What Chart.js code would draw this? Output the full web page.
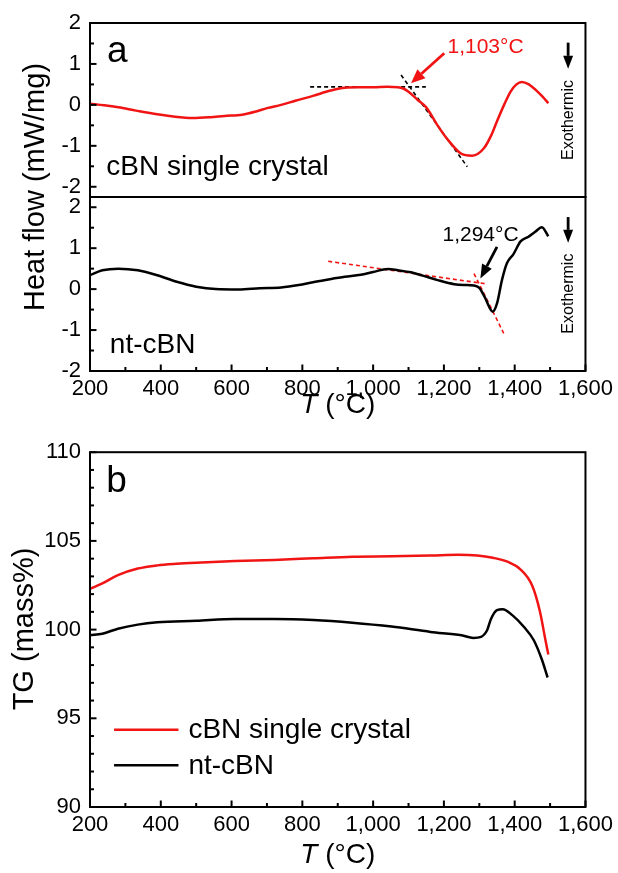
<!DOCTYPE html>
<html>
<head>
<meta charset="utf-8">
<script src="https://cdn.jsdelivr.net/npm/chart.js@4.4.0/dist/chart.umd.min.js"></script>
<style>
  body { margin: 0; background: #fff; width: 618px; height: 873px; position: relative; overflow: hidden; }
  canvas { position: absolute; left: 0; }
  #dsc { top: 0; }
  #tg { top: 430px; }
</style>
</head>
<body>
<canvas id="dsc" width="618" height="430"></canvas>
<canvas id="tg" width="618" height="443"></canvas>
<script>
// temperature axis
var xTicks = [200, 400, 600, 800, 1000, 1200, 1400, 1600];
var xTickLabels = ['200', '400', '600', '800', '1,000', '1,200', '1,400', '1,600'];
var hfTicks = [-2, -1, 0, 1, 2];
var tgTicks = [90, 95, 100, 105, 110];

// DSC, cBN single crystal (mW/mg)
var dscCbnT  = [200, 240, 280, 330, 390, 440, 490, 540, 580, 630, 670, 700, 740, 780, 830, 880, 920, 960, 1000, 1040, 1070, 1085, 1100, 1126, 1150, 1182, 1210, 1247, 1280, 1313, 1335, 1350, 1370, 1388, 1405, 1420, 1440, 1460, 1480, 1495];
var dscCbnHF = [0.03, -0.01, -0.06, -0.14, -0.23, -0.29, -0.32, -0.30, -0.27, -0.24, -0.16, -0.08, 0.0, 0.10, 0.22, 0.35, 0.42, 0.43, 0.43, 0.44, 0.43, 0.40, 0.32, 0.12, -0.06, -0.50, -0.84, -1.18, -1.24, -1.06, -0.72, -0.40, 0.0, 0.32, 0.50, 0.56, 0.50, 0.36, 0.19, 0.04];

// DSC, nt-cBN (mW/mg)
var dscNtT  = [200, 235, 280, 335, 390, 445, 500, 555, 620, 680, 740, 790, 830, 870, 920, 965, 1000, 1042, 1070, 1107, 1140, 1182, 1229, 1257, 1285, 1300, 1315, 1338, 1350, 1364, 1378, 1397, 1416, 1439, 1458, 1477, 1495];
var dscNtHF = [0.34, 0.46, 0.50, 0.46, 0.34, 0.18, 0.06, 0.0, -0.01, 0.02, 0.04, 0.10, 0.17, 0.23, 0.30, 0.35, 0.42, 0.49, 0.46, 0.41, 0.33, 0.22, 0.12, 0.10, 0.09, 0.03, -0.19, -0.55, -0.35, 0.22, 0.63, 0.86, 1.16, 1.28, 1.40, 1.51, 1.29];

// onset construction lines
var cbnBaseT = [822, 1149];   var cbnBaseHF = [0.44, 0.44];
var cbnSlopeT = [1079, 1266]; var cbnSlopeHF = [0.73, -1.51];
var ntBaseT = [873, 1318];    var ntBaseHF = [0.68, 0.13];
var ntSlopeT = [1285, 1369];  var ntSlopeHF = [0.38, -1.08];

// TG (mass%)
var tgCbnT    = [200, 235, 279, 335, 390, 445, 500, 610, 721, 831, 941, 1052, 1162, 1240, 1294, 1338, 1383, 1416, 1449, 1471, 1487, 1495];
var tgCbnMass = [102.3, 102.6, 103.07, 103.44, 103.62, 103.71, 103.77, 103.86, 103.93, 104.02, 104.11, 104.13, 104.17, 104.22, 104.18, 104.05, 103.8, 103.4, 102.5, 101.05, 99.4, 98.6];
var tgNtT     = [200, 235, 279, 335, 390, 500, 610, 721, 831, 941, 1052, 1162, 1250, 1283, 1305, 1322, 1333, 1350, 1366, 1394, 1427, 1454, 1477, 1493];
var tgNtMass  = [99.68, 99.77, 100.05, 100.28, 100.41, 100.5, 100.6, 100.6, 100.54, 100.39, 100.17, 99.87, 99.68, 99.53, 99.59, 99.96, 100.6, 101.1, 101.15, 100.8, 100.13, 99.4, 98.3, 97.3];

var RED = '#f01414';
var FONT = '"Liberation Sans", Arial, sans-serif';
function font(size, style) { return (style ? style + ' ' : '') + size + 'px ' + FONT; }

function pts(xs, ys) {
  return xs.map(function (x, i) { return { x: x, y: ys[i] }; });
}

function curve(label, xs, ys, axis, color) {
  return { label: label, data: pts(xs, ys), yAxisID: axis, borderColor: color, borderWidth: 2.5,
           pointRadius: 0, cubicInterpolationMode: 'monotone', fill: false };
}
function guide(xs, ys, axis, color) {
  return { label: '', data: pts(xs, ys), yAxisID: axis, borderColor: color, borderWidth: 1.6,
           borderDash: [4, 3], pointRadius: 0, fill: false };
}

function arrow(ctx, x1, y1, x2, y2, head, width) {
  var a = Math.atan2(y2 - y1, x2 - x1);
  var bx = x2 - head * Math.cos(a), by = y2 - head * Math.sin(a);
  ctx.beginPath(); ctx.moveTo(x1, y1); ctx.lineTo(bx, by); ctx.stroke();
  ctx.beginPath(); ctx.moveTo(x2, y2);
  ctx.lineTo(bx + width / 2 * Math.sin(a), by - width / 2 * Math.cos(a));
  ctx.lineTo(bx - width / 2 * Math.sin(a), by + width / 2 * Math.cos(a));
  ctx.closePath(); ctx.fill();
}

function vtext(ctx, text, x, y, f) {
  ctx.save();
  ctx.translate(x, y); ctx.rotate(-Math.PI / 2);
  ctx.font = f; ctx.textAlign = 'center'; ctx.textBaseline = 'middle';
  ctx.fillText(text, 0, 0);
  ctx.restore();
}

function tTitle(ctx, cx, cy) {
  var f1 = font(28, 'italic'), f2 = font(28);
  ctx.font = f1; var w1 = ctx.measureText('T').width;
  ctx.font = f2; var w2 = ctx.measureText(' (°C)').width;
  var x0 = cx - (w1 + w2) / 2;
  ctx.textAlign = 'left'; ctx.textBaseline = 'middle';
  ctx.font = f1; ctx.fillText('T', x0, cy);
  ctx.font = f2; ctx.fillText(' (°C)', x0 + w1, cy);
}

// frame, inward ticks, labels and arrows
function makeDecor(cfg) {
  return {
    id: 'decor',
    afterDraw: function (chart) {
      var ctx = chart.ctx, area = chart.chartArea, xs = chart.scales.x;
      ctx.save();
      ctx.strokeStyle = '#000'; ctx.fillStyle = '#000'; ctx.lineWidth = 2;
      cfg.panels.forEach(function (p) {
        var s = chart.scales[p.axis];
        ctx.strokeRect(area.left, s.top, area.right - area.left, s.bottom - s.top);
        for (var k = Math.ceil(s.min / p.minor - 1e-9); k * p.minor <= s.max + 1e-9; k++) {
          var v = k * p.minor, r = v / p.major;
          var len = Math.abs(r - Math.round(r)) < 1e-6 ? 6.5 : 4;
          var py = s.getPixelForValue(v);
          ctx.beginPath(); ctx.moveTo(area.left, py); ctx.lineTo(area.left + len, py); ctx.stroke();
        }
      });
      for (var t = 200; t <= 1600; t += 100) {
        var px = xs.getPixelForValue(t);
        ctx.beginPath(); ctx.moveTo(px, area.bottom); ctx.lineTo(px, area.bottom - (t % 200 === 0 ? 6.5 : 4)); ctx.stroke();
      }
      (cfg.texts || []).forEach(function (a) {
        var s = chart.scales[a.axis];
        var x = xs.getPixelForValue(a.x), y = s.getPixelForValue(a.y);
        ctx.fillStyle = a.color || '#000';
        if (a.vertical) { vtext(ctx, a.text, x, y, font(a.size)); return; }
        ctx.font = font(a.size); ctx.textAlign = 'left'; ctx.textBaseline = a.baseline || 'middle';
        ctx.fillText(a.text, x, y);
      });
      (cfg.arrows || []).forEach(function (a) {
        var s = chart.scales[a.axis];
        ctx.strokeStyle = a.color; ctx.fillStyle = a.color; ctx.lineWidth = a.lw;
        arrow(ctx, xs.getPixelForValue(a.from[0]), s.getPixelForValue(a.from[1]),
                   xs.getPixelForValue(a.to[0]), s.getPixelForValue(a.to[1]), a.head, a.width);
      });
      if (cfg.legend) {
        var ys = chart.scales[cfg.legend.axis];
        cfg.legend.rows.forEach(function (row) {
          var ds = chart.data.datasets[row.index];
          var y = ys.getPixelForValue(row.y);
          ctx.strokeStyle = ds.borderColor; ctx.lineWidth = 2.5;
          ctx.beginPath(); ctx.moveTo(xs.getPixelForValue(cfg.legend.x0), y);
          ctx.lineTo(xs.getPixelForValue(cfg.legend.x1), y); ctx.stroke();
          ctx.fillStyle = '#000'; ctx.font = font(28); ctx.textAlign = 'left'; ctx.textBaseline = 'middle';
          ctx.fillText(ds.label, xs.getPixelForValue(cfg.legend.xText), y + 1);
        });
      }
      ctx.fillStyle = '#000';
      vtext(ctx, cfg.yTitle.text, cfg.yTitle.x, cfg.yTitle.y, font(29));
      tTitle(ctx, (area.left + area.right) / 2, cfg.xTitleY);
      ctx.restore();
    }
  };
}

function xScale(height) {
  return {
    type: 'linear', min: 200, max: 1600,
    afterBuildTicks: function (s) { s.ticks = xTicks.map(function (v) { return { value: v }; }); },
    afterFit: function (s) { s.height = height; },
    grid: { display: false, drawTicks: false }, border: { display: false },
    ticks: { color: '#000', font: { family: FONT, size: 22 }, padding: 5, maxRotation: 0, autoSkip: false,
             callback: function (v, i) { return xTickLabels[i]; } }
  };
}
function yScale(min, max, ticks, extra) {
  var s = {
    type: 'linear', axis: 'y', position: 'left', min: min, max: max,
    afterBuildTicks: function (sc) { sc.ticks = ticks.map(function (v) { return { value: v }; }); },
    afterFit: function (sc) { sc.width = 90; },
    grid: { display: false, drawTicks: false }, border: { display: false },
    ticks: { color: '#000', font: { family: FONT, size: 22 }, padding: 9, autoSkip: false }
  };
  for (var k in extra) s[k] = extra[k];
  return s;
}

var common = {
  responsive: false, animation: false, events: [],
  plugins: { legend: { display: false }, tooltip: { enabled: false } }
};

new Chart(document.getElementById('dsc').getContext('2d'), {
  type: 'line',
  data: {
    datasets: [
      curve('cBN single crystal', dscCbnT, dscCbnHF, 'yTop', RED),
      curve('nt-cBN', dscNtT, dscNtHF, 'yBot', '#000'),
      guide(cbnBaseT, cbnBaseHF, 'yTop', '#000'),
      guide(cbnSlopeT, cbnSlopeHF, 'yTop', '#000'),
      guide(ntBaseT, ntBaseHF, 'yBot', RED),
      guide(ntSlopeT, ntSlopeHF, 'yBot', RED)
    ]
  },
  options: Object.assign({}, common, {
    layout: { padding: { top: 23, right: 29, left: 0, bottom: 0 } },
    scales: {
      x: xScale(59),
      yBot: yScale(-2, 2.25, hfTicks, { stack: 'dsc', stackWeight: 1, weight: 1 }),
      yTop: yScale(-2.25, 2, hfTicks, { stack: 'dsc', stackWeight: 1, weight: 2 })
    }
  }),
  plugins: [makeDecor({
    panels: [{ axis: 'yTop', major: 1, minor: 0.5 }, { axis: 'yBot', major: 1, minor: 0.5 }],
    texts: [
      { axis: 'yTop', x: 248, y: 1.05, text: 'a', size: 37, baseline: 'alphabetic' },
      { axis: 'yTop', x: 246, y: -1.71, text: 'cBN single crystal', size: 28, baseline: 'alphabetic' },
      { axis: 'yTop', x: 1210, y: 1.40, text: '1,103°C', size: 21, color: RED },
      { axis: 'yTop', x: 1551, y: -0.37, text: 'Exothermic', size: 16, vertical: true },
      { axis: 'yBot', x: 256, y: -1.56, text: 'nt-cBN', size: 28, baseline: 'alphabetic' },
      { axis: 'yBot', x: 1196, y: 1.32, text: '1,294°C', size: 21 },
      { axis: 'yBot', x: 1551, y: -0.11, text: 'Exothermic', size: 16, vertical: true }
    ],
    arrows: [
      { axis: 'yTop', from: [1201, 1.26], to: [1107, 0.53], color: RED, lw: 2.8, head: 14, width: 12 },
      { axis: 'yTop', from: [1551, 1.52], to: [1551, 0.88], color: '#000', lw: 2.8, head: 13, width: 10 },
      { axis: 'yBot', from: [1350, 1.03], to: [1303, 0.26], color: '#000', lw: 2.8, head: 14, width: 11 },
      { axis: 'yBot', from: [1551, 1.76], to: [1551, 1.13], color: '#000', lw: 2.8, head: 13, width: 10 }
    ],
    yTitle: { text: 'Heat flow (mW/mg)', x: 36, y: 187 },
    xTitleY: 405
  })]
});

new Chart(document.getElementById('tg').getContext('2d'), {
  type: 'line',
  data: {
    datasets: [
      curve('cBN single crystal', tgCbnT, tgCbnMass, 'y', RED),
      curve('nt-cBN', tgNtT, tgNtMass, 'y', '#000')
    ]
  },
  options: Object.assign({}, common, {
    layout: { padding: { top: 14, right: 29, left: 0, bottom: 0 } },
    scales: {
      x: xScale(66),
      y: yScale(90, 110, tgTicks, {})
    }
  }),
  plugins: [makeDecor({
    panels: [{ axis: 'y', major: 5, minor: 1 }],
    texts: [
      { axis: 'y', x: 246, y: 107.74, text: 'b', size: 37, baseline: 'alphabetic' }
    ],
    legend: { axis: 'y', x0: 268, x1: 450, xText: 478,
              rows: [{ index: 0, y: 94.36 }, { index: 1, y: 92.35 }] },
    yTitle: { text: 'TG (mass%)', x: 25, y: 199 },
    xTitleY: 425
  })]
});
</script>
</body>
</html>
